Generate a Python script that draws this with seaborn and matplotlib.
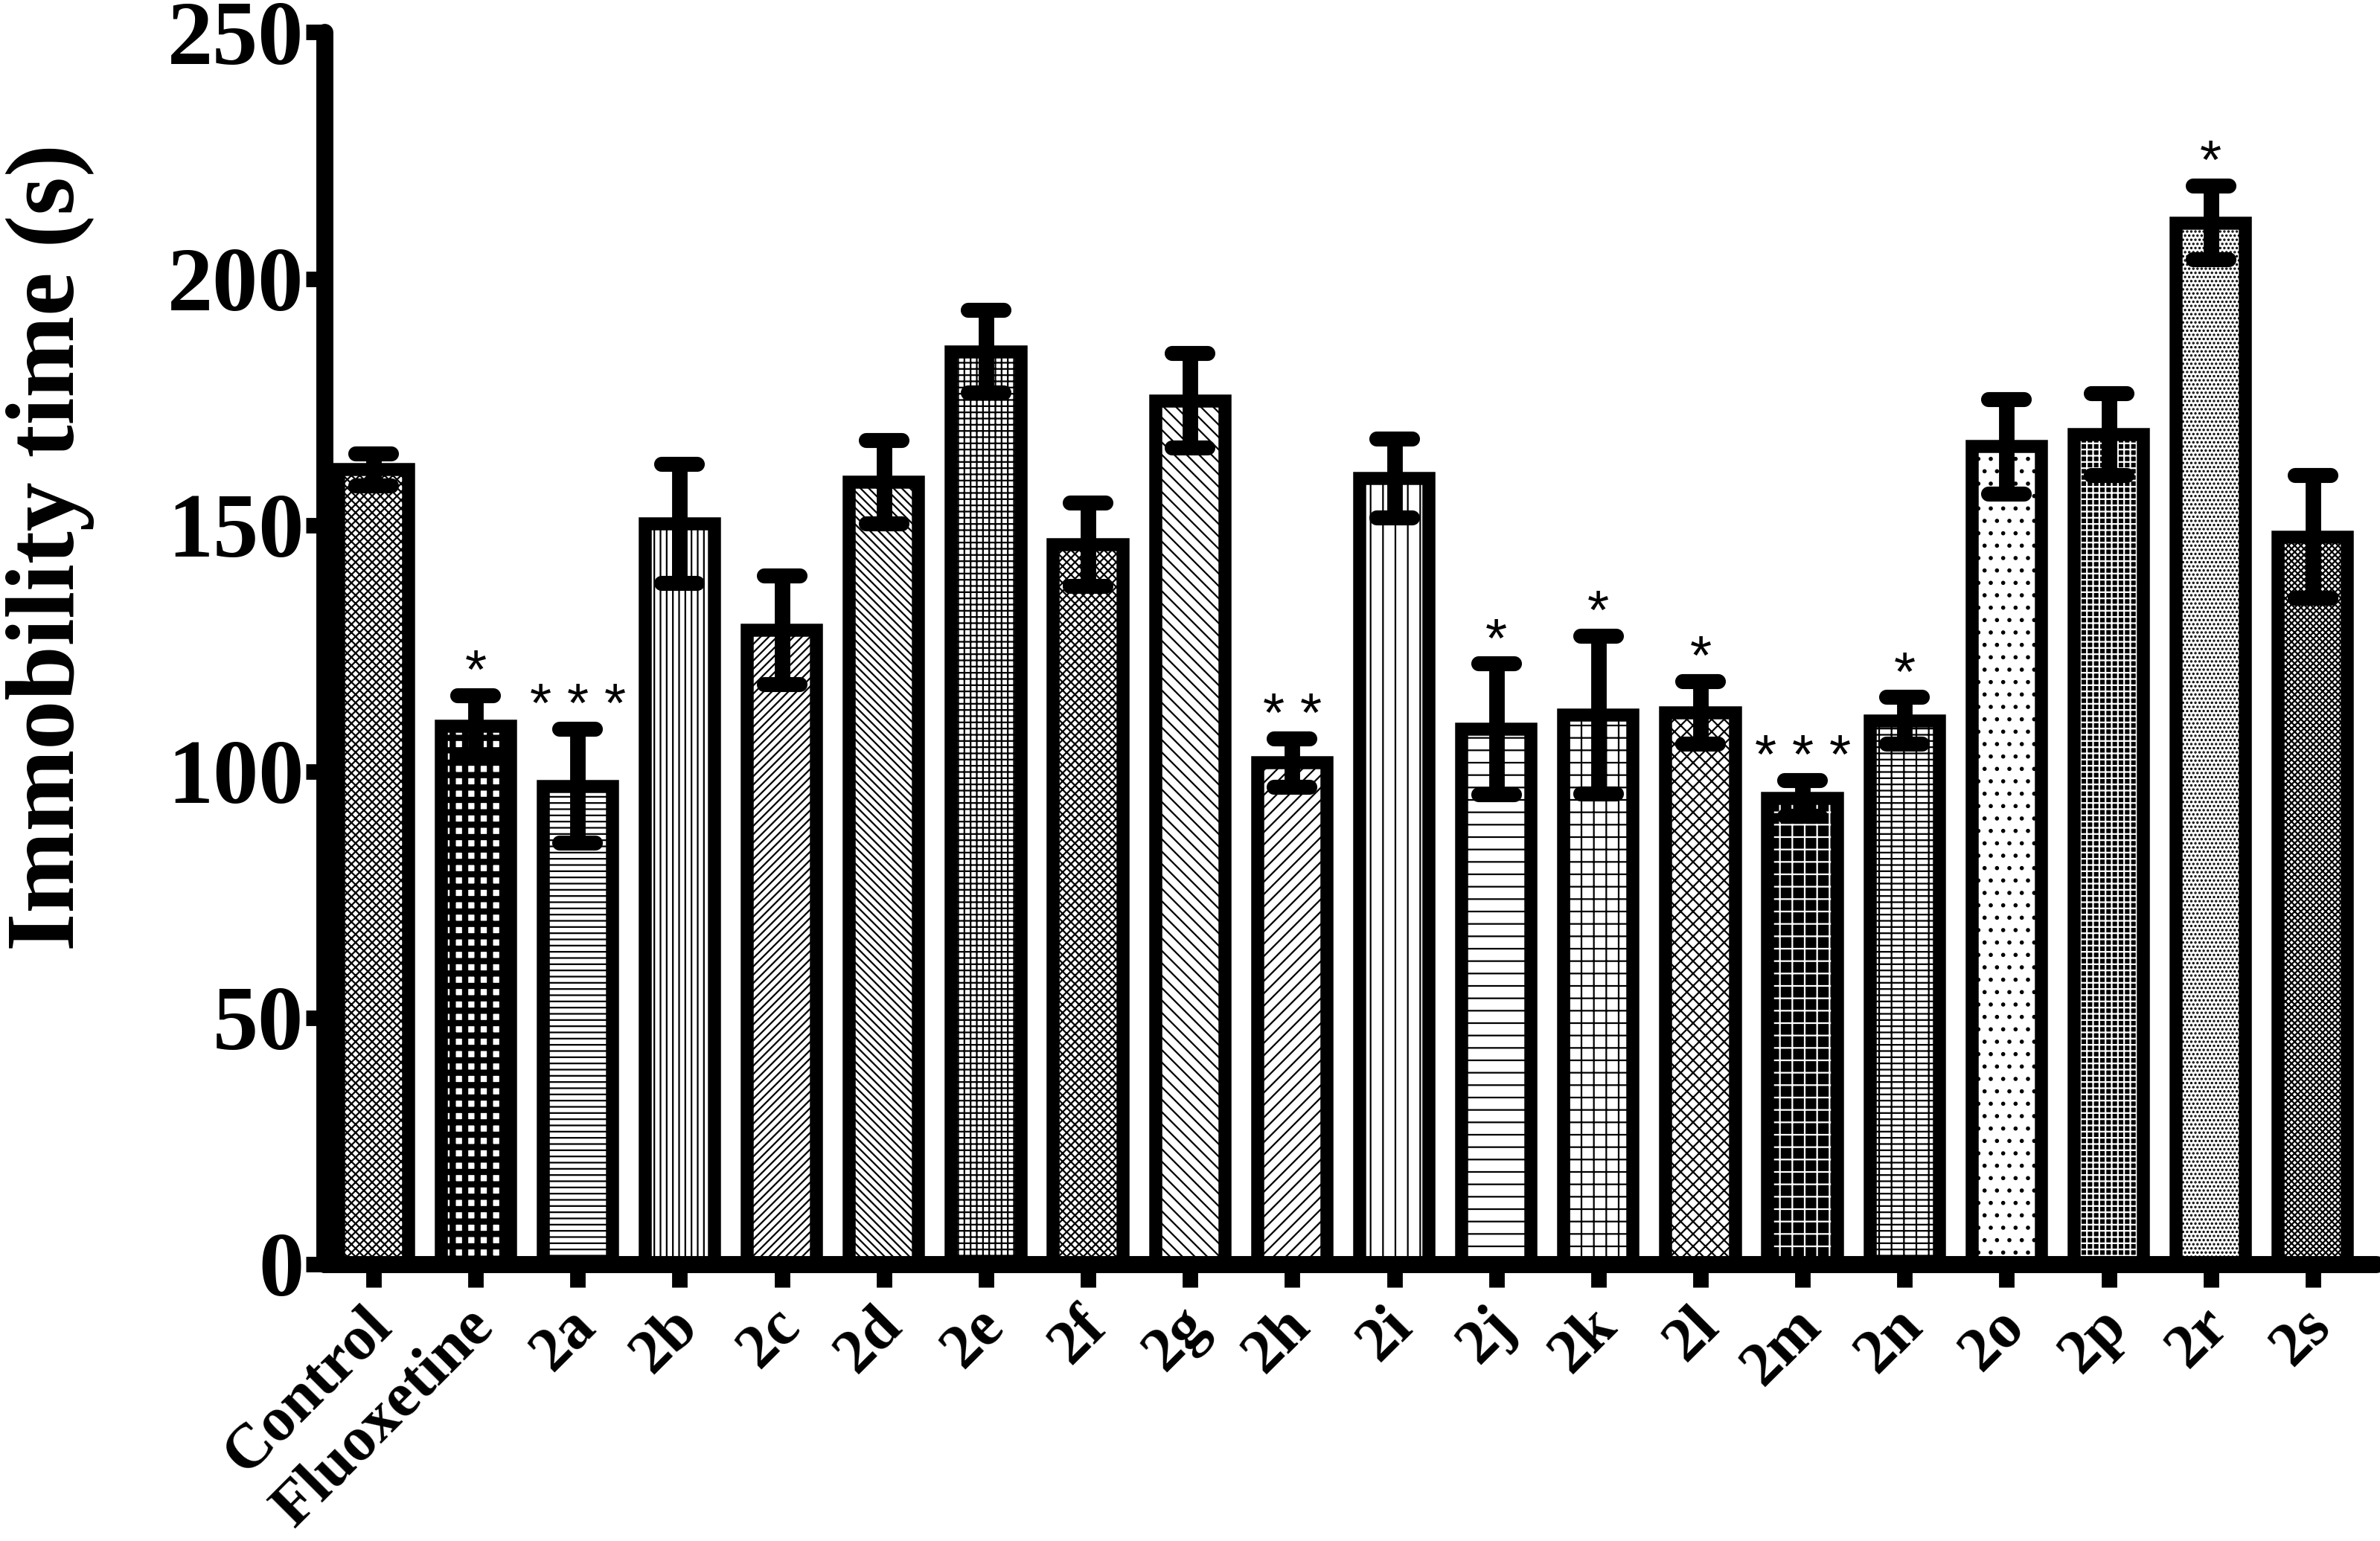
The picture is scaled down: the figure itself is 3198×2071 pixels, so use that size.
import numpy as np
import pandas as pd
import matplotlib
matplotlib.use("Agg")
import matplotlib.pyplot as plt
import matplotlib.colors as mcolors
from matplotlib.markers import MarkerStyle
from matplotlib.transforms import ScaledTranslation
import seaborn as sns

# groups tested in the forced swim test
groups = ['Control', 'Fluoxetine', '2a', '2b', '2c', '2d', '2e', '2f', '2g', '2h',
          '2i', '2j', '2k', '2l', '2m', '2n', '2o', '2p', '2r', '2s']
# mean immobility time (s) and SEM
means = [161.2, 109.1, 97.0, 150.2, 128.6, 158.7, 185.2, 146.0, 175.2, 101.7,
         159.4, 108.5, 111.4, 111.9, 94.5, 110.3, 165.9, 168.4, 211.3, 147.6]
sems = [3.2, 6.3, 11.5, 12.1, 11.0, 8.4, 8.4, 8.5, 9.6, 4.9,
        8.0, 13.3, 16.0, 6.3, 3.6, 4.7, 9.6, 8.3, 7.5, 12.5]
stars = ['', '*', '***', '', '', '', '', '', '', '**',
         '', '*', '*', '*', '***', '*', '', '', '*', '']
hatches = ['xxx', '+', '--', '||', '///', '\\\\\\', '++', 'xxx', '\\\\', '//',
           '|', '-', '+', 'xx', '+', '-+', '.', '++', '...', 'xxxx']
# bars drawn as white hatch on black
dark = ['2m', '2p']

sns.set_theme(style='ticks')
plt.rcParams['font.family'] = ['Liberation Serif', 'DejaVu Serif']
plt.rcParams['font.weight'] = 'bold'
plt.rcParams['hatch.linewidth'] = 1.6
plt.rcParams['hatch.color'] = 'black'
for k in ['text.color', 'axes.labelcolor', 'xtick.color', 'ytick.color', 'axes.edgecolor']:
    plt.rcParams[k] = 'black'

df = pd.DataFrame({'group': groups, 'time': means})

fig = plt.figure(figsize=(31.98, 20.71), dpi=100)
ax = fig.add_axes([0.1364, 0.1797, 0.862, 0.7993])

sns.barplot(data=df, x='group', y='time', order=groups, color='white',
            saturation=1, edgecolor='black', linewidth=12.6, width=0.68,
            errorbar=None, ax=ax)
for patch, h, g in zip(ax.patches, hatches, groups):
    patch.set_hatch(h)
    if g in dark:
        patch.set_facecolor('black')
        patch._hatch_color = mcolors.to_rgba('white')
    else:
        patch.set_facecolor('white')
    if g == 'Fluoxetine' and hasattr(patch, 'set_hatch_linewidth'):
        patch.set_hatch_linewidth(6)

xpos = np.arange(len(groups))
eb = ax.errorbar(xpos, means, yerr=sems, fmt='none', ecolor='black',
                 elinewidth=15, capsize=17, capthick=14.5, zorder=5)
for cap in eb[1]:
    cap.set_marker(MarkerStyle('_', capstyle='round'))

for i, s in enumerate(stars):
    if s:
        ax.text(i, means[i] + sems[i] + 1.5, ' '.join(s), ha='center', va='baseline',
                fontsize=54, fontweight='normal', family='Liberation Sans')

ax.set_ylim(0, 250)
ax.set_yticks(range(0, 251, 50))
ax.set_xlim(-0.48, 19.62)
ax.set_xticks(xpos)
ax.set_xticklabels(groups, rotation=45, ha='right', va='top', rotation_mode='anchor')

for side in ['top', 'right']:
    ax.spines[side].set_visible(False)
for side in ['left', 'bottom']:
    ax.spines[side].set_linewidth(16.5)
    ax.spines[side].set_capstyle('round')

ax.tick_params(axis='y', length=18, width=15, labelsize=88, pad=2)
ax.tick_params(axis='x', length=22, width=15, labelsize=61, pad=10)
shift = ScaledTranslation(-0.15, 0, fig.dpi_scale_trans)
for lab in ax.get_xticklabels():
    lab.set_fontweight('bold')
    lab.set_transform(lab.get_transform() + shift)
for lab in ax.get_yticklabels():
    lab.set_fontweight('bold')

ax.set_xlabel('')
ax.set_ylabel('Immobility time (s)', fontsize=95, fontweight='bold')
ax.yaxis.set_label_coords(-0.112, 0.582)

fig.savefig('out.png', dpi=100)
